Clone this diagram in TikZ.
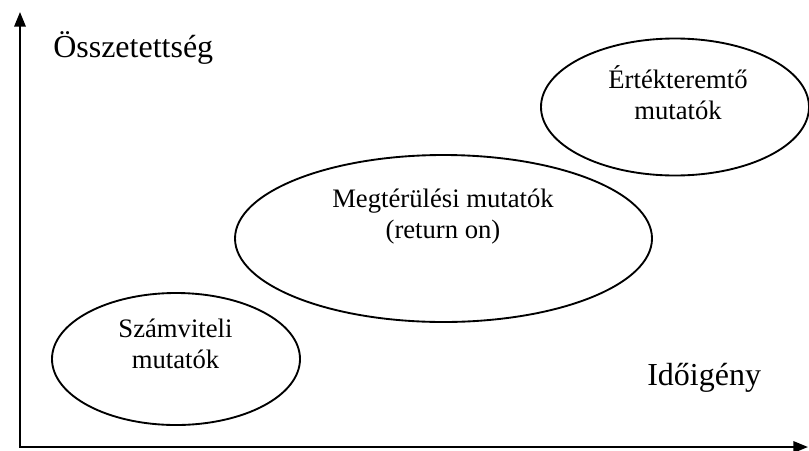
\documentclass[tikz,border=0pt]{standalone}
\usepackage{fontspec}
\setmainfont{Liberation Serif}
\usetikzlibrary{arrows.meta,shapes.geometric}

\tikzset{
  axis/.style={line width=1.7pt, {Triangle[length=11pt,width=8.5pt]}-{Triangle[length=11pt,width=8.5pt]}},
  ring/.style={draw, ellipse, line width=1.4pt, inner sep=0pt},
  axislabel/.style={font=\fontsize{24pt}{28pt}\selectfont, anchor=base west, inner sep=0pt},
  ringlabel/.style={font=\fontsize{20pt}{23.25pt}\selectfont, align=center, inner sep=0pt},
}

\begin{document}
\begin{tikzpicture}[x=0.75pt, y=-0.75pt]
  \useasboundingbox (0,0) rectangle (809,450);

  % axes
  \coordinate (top) at (20,12);
  \coordinate (origin) at (20,447);
  \coordinate (right) at (808,447);
  \draw[axis] (top) -- (origin) -- (right);

  \node[axislabel] (ylab) at (53,57) {Összetettség};
  \node[axislabel] (xlab) at (647,385) {Időigény};

  % indicator groups
  \node[ring, minimum width=248*0.75pt, minimum height=132*0.75pt] (acc) at (176,359) {};
  \node[ring, minimum width=417*0.75pt, minimum height=167*0.75pt] (ret) at (443.5,238.5) {};
  \node[ring, minimum width=268*0.75pt, minimum height=137*0.75pt] (val) at (675,107) {};

  \node[ringlabel] (accl) at (175.5,344) {Számviteli\\mutatók};
  \node[ringlabel] (retl) at (443,217) {Megtérülési mutatók\\(return on)};
  \node[ringlabel] (vall) at (678,93) {Értékteremtő\\mutatók};
\end{tikzpicture}
\end{document}
